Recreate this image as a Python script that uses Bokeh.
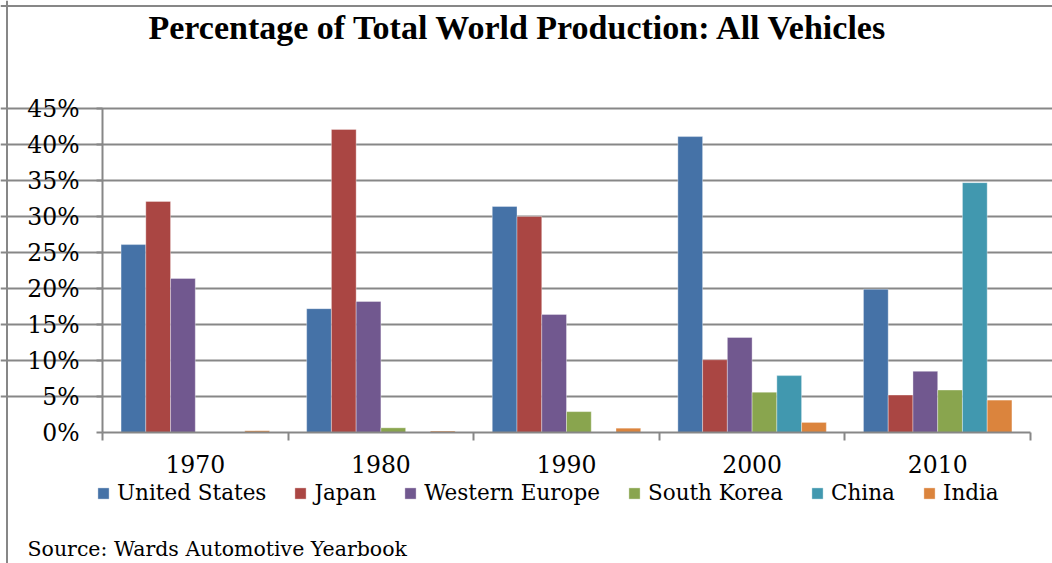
from bokeh.plotting import figure
from bokeh.models import (ColumnDataSource, FixedTicker, PrintfTickFormatter, Legend,
                          LegendItem, Range1d, Label, Span)
from bokeh.transform import dodge
from bokeh.embed import file_html
from bokeh.resources import INLINE

years = [1970, 1980, 1990, 2000, 2010]
united_states = [26.1, 17.2, 31.4, 41.1, 19.9]
japan = [32.1, 42.1, 30.0, 10.1, 5.2]
western_europe = [21.4, 18.2, 16.4, 13.2, 8.5]
south_korea = [0.0, 0.65, 2.9, 5.6, 5.9]
china = [0.0, 0.0, 0.0, 7.9, 34.7]
india = [0.25, 0.2, 0.6, 1.4, 4.5]

series_names = ["United States", "Japan", "Western Europe", "South Korea", "China", "India"]
series_keys = ["us", "jp", "we", "sk", "cn", "in"]
series_values = [united_states, japan, western_europe, south_korea, china, india]
colors = ["#4572A7", "#AA4643", "#71588F", "#89A54E", "#4198AF", "#DB843D"]
y_ticks = [0, 5, 10, 15, 20, 25, 30, 35, 40, 45]

data = {"year": years}
for k, v in zip(series_keys, series_values):
    data[k] = v
source = ColumnDataSource(data)

W, H = 1052, 563
# plot-area placement in pixels (left, right, top, bottom of the value axes)
PL, PR, PT, PB = 102, 1030, 108, 432
x0, x1 = 1965, 2015
y0, y1 = 0, 45
xs = (PR - PL) / (x1 - x0)
ys = (PB - PT) / (y1 - y0)
x_range = Range1d(x0 - PL / xs, x1 + (W - PR) / xs)
y_range = Range1d(y0 - (H - PB) / ys, y1 + PT / ys)

GRAY = "#878787"
p = figure(width=W, height=H, output_backend="svg", toolbar_location=None,
           x_range=x_range, y_range=y_range,
           min_border_left=0, min_border_right=0, min_border_top=0,
           min_border_bottom=0)
p.outline_line_color = None
p.background_fill_color = "white"
p.border_fill_color = "white"

n = len(series_keys)
group = 10 * 0.8
bw = group / n
renderers = []
for j, (k, c) in enumerate(zip(series_keys, colors)):
    off = (j - (n - 1) / 2) * bw
    r = p.vbar(x=dodge("year", off), top=k, width=bw, source=source,
               fill_color=c, line_color="white", line_alpha=0.35, line_width=1)
    renderers.append(r)

# axes
p.xaxis.fixed_location = 0
p.xaxis.bounds = (x0, x1)
p.xaxis.ticker = FixedTicker(ticks=years, minor_ticks=[1965, 1975, 1985, 1995, 2005, 2015])
p.xaxis.major_tick_out = 0
p.xaxis.major_tick_in = 0
p.xaxis.minor_tick_out = 8
p.xaxis.minor_tick_in = 0
p.xaxis.minor_tick_line_color = GRAY
p.xaxis.minor_tick_line_width = 2
p.xaxis.axis_line_color = GRAY
p.xaxis.axis_line_width = 2
p.xaxis.major_label_standoff = 14

p.yaxis.fixed_location = x0
p.yaxis.bounds = (y0, y1)
p.yaxis.ticker = FixedTicker(ticks=y_ticks, minor_ticks=[])
p.yaxis.formatter = PrintfTickFormatter(format="%d%%")
p.yaxis.major_tick_out = 6
p.yaxis.major_tick_in = 0
p.yaxis.major_tick_line_color = GRAY
p.yaxis.major_tick_line_width = 2
p.yaxis.axis_line_color = GRAY
p.yaxis.axis_line_width = 2
p.yaxis.major_label_standoff = 17

for ax in (p.xaxis[0], p.yaxis[0]):
    ax.major_label_text_font = "DejaVu Serif"
    ax.major_label_text_font_size = "23.5px"
    ax.major_label_text_color = "black"

p.xgrid.grid_line_color = None
p.ygrid.grid_line_color = GRAY
p.ygrid.grid_line_width = 2
p.ygrid.bounds = (x0, x1)
p.ygrid.ticker = FixedTicker(ticks=y_ticks[1:])

legend = Legend(items=[LegendItem(label=nm, renderers=[r]) for nm, r in zip(series_names, renderers)],
                orientation="horizontal", location=(96, 58))
legend.label_text_font = "DejaVu Serif"
legend.label_text_font_size = "21.5px"
legend.label_text_color = "black"
legend.glyph_width = 14
legend.glyph_height = 14
legend.label_standoff = 7
legend.spacing = 27
legend.padding = 0
legend.margin = 0
legend.border_line_color = None
legend.background_fill_alpha = 0
p.add_layout(legend)

title = Label(x=148, y=H - 27, x_units="screen", y_units="screen",
              text="Percentage of Total World Production: All Vehicles",
              text_font="Liberation Serif", text_font_style="bold",
              text_font_size="34px", text_color="black", text_baseline="alphabetic")
p.add_layout(title)

src = Label(x=27, y=15, x_units="screen", y_units="screen",
            text="Source: Wards Automotive Yearbook", text_font="DejaVu Serif",
            text_font_size="20.5px", text_color="black", text_baseline="alphabetic")
p.add_layout(src)

p.add_layout(Span(location=6.5, dimension="height", location_units="screen",
                  line_color=GRAY, line_width=2))
p.add_layout(Span(location=H - 5.5, dimension="width", location_units="screen",
                  line_color=GRAY, line_width=2))

open("out.html", "w").write(file_html(p, INLINE))
